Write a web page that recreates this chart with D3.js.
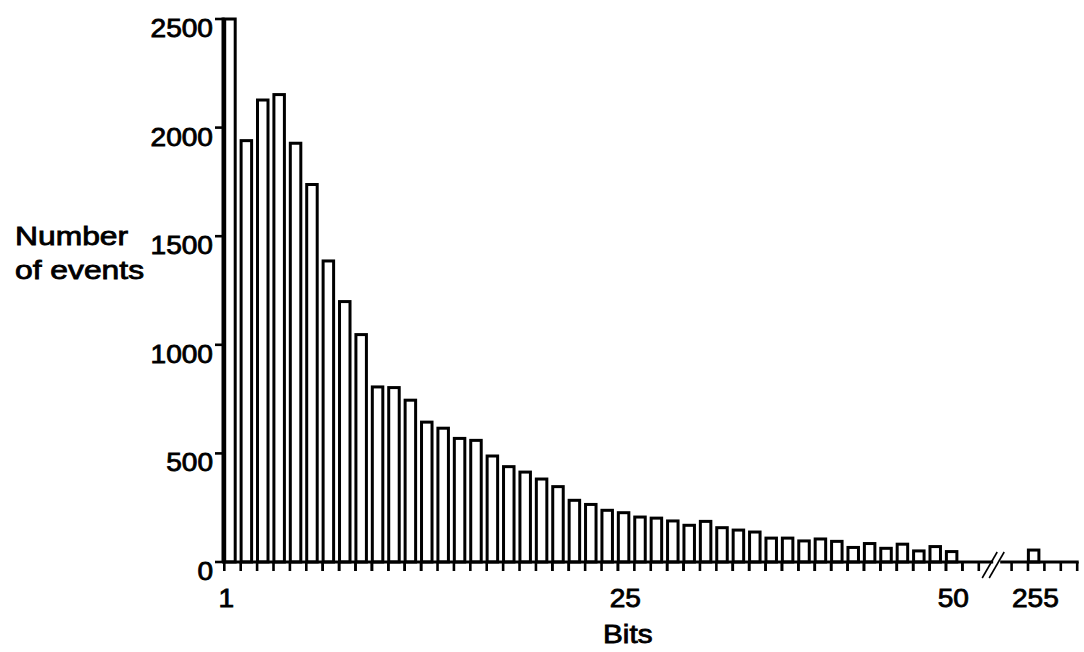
<!DOCTYPE html>
<html>
<head>
<meta charset="utf-8">
<script src="https://cdn.jsdelivr.net/npm/d3@7"></script>
<style>
  html, body { margin: 0; padding: 0; background: #fff; }
  svg { display: block; }
  text { font-family: "Liberation Sans", Arial, Helvetica, sans-serif; fill: #000; stroke: #000; stroke-width: 0.85px; }
</style>
</head>
<body>
<svg id="chart" width="1084" height="652"></svg>
<script>
// Event counts per bit position, 1..46 on the main axis
const bins = [1, 2, 3, 4, 5, 6, 7, 8, 9, 10, 11, 12, 13, 14, 15, 16, 17, 18, 19, 20,
              21, 22, 23, 24, 25, 26, 27, 28, 29, 30, 31, 32, 33, 34, 35, 36, 37, 38, 39, 40,
              41, 42, 43, 44, 45, 46];
const counts = [2500, 1940, 2127, 2152, 1928, 1738, 1386, 1199, 1047, 806,
                803, 745, 644, 616, 569, 560, 488, 439, 414, 382,
                347, 284, 265, 238, 227, 207, 202, 189, 169, 187,
                158, 147, 138, 110, 110, 97, 106, 95, 67, 85,
                63, 82, 51, 71, 48, 0];

// Bins shown after the axis break
const tailBins = [254, 255, 256, 257];
const tailCounts = [0, 55, 0, 0];

// Axis labelling
const yTicks = [0, 500, 1000, 1500, 2000, 2500];
const xTickLabels = ["1", "25", "50", "255"];
const xTickBins = [1, 25, 45, 255];
const xTitle = "Bits";
const yTitle = ["Number", "of events"];

const svg = d3.select("#chart");

// Slot list: main bins, two slots taken by the break, then the tail bins
const breakSlots = ["break-a", "break-b"];
const slots = bins.map(String).concat(breakSlots, tailBins.map(String));
const data = bins.map((b, i) => ({ key: String(b), value: counts[i] }))
  .concat(tailBins.map((b, i) => ({ key: String(b), value: tailCounts[i] })));

const x = d3.scaleBand().domain(slots).range([224.3, 1077.2]).paddingInner(0).paddingOuter(0);
const y = d3.scaleLinear().domain([0, 2500]).range([562, 19]);

const bw = x.bandwidth();
const ink = "#000";

// Bars: white boxes with a heavy outline, sitting at the left of each slot
svg.append("g")
  .selectAll("rect")
  .data(data.filter(d => d.value > 0))
  .join("rect")
  .attr("x", d => x(d.key) + 0.4)
  .attr("y", d => y(d.value))
  .attr("width", bw * 0.64)
  .attr("height", d => y(0) - y(d.value))
  .attr("fill", "#fff")
  .attr("stroke", ink)
  .attr("stroke-width", 3);

// X axis baseline, split at the break
const breakMid = x("break-b");
const y0 = y(0);
const axis = svg.append("g").attr("stroke", ink).attr("stroke-width", 3).attr("fill", "none");
axis.append("line").attr("x1", 222).attr("x2", breakMid - 2).attr("y1", y0).attr("y2", y0);
axis.append("line").attr("x1", breakMid + 5).attr("x2", x.range()[1] + 1.5).attr("y1", y0).attr("y2", y0);

// Break marks
[-3, 4].forEach(off => {
  axis.append("line")
    .attr("x1", breakMid + off - 10).attr("y1", y0 + 16)
    .attr("x2", breakMid + off + 5).attr("y2", y0 - 10)
    .attr("stroke-width", 1.6);
});

// X ticks on every slot edge, skipping the interior of the break
const realSlots = slots.filter(s => !breakSlots.includes(s));
const edges = new Set();
realSlots.forEach(s => { edges.add(x(s)); edges.add(x(s) + bw); });
axis.selectAll("line.xt")
  .data(Array.from(edges))
  .join("line")
  .attr("class", "xt")
  .attr("x1", d => d).attr("x2", d => d)
  .attr("y1", y0).attr("y2", y0 + 9)
  .attr("stroke-width", 2.6);

// Y axis
axis.append("line").attr("x1", 223).attr("x2", 223).attr("y1", y(2500) - 1.5).attr("y2", y0 + 1);
axis.selectAll("line.yt")
  .data(yTicks)
  .join("line")
  .attr("class", "yt")
  .attr("x1", 215).attr("x2", 223)
  .attr("y1", d => y(d)).attr("y2", d => y(d))
  .attr("stroke-width", 2.6);

// Text is set slightly wide, anchored at (px, py)
const place = (sel, px, py, stretch) => sel
  .attr("transform", (d, i) => `translate(${px(d, i)},${py(d, i)}) scale(${stretch},1)`)
  .style("font-size", "26.5px");

svg.append("g").selectAll("text")
  .data(yTicks)
  .join("text")
  .attr("text-anchor", "end")
  .text(d => d)
  .call(place, () => 213, d => y(d) + 18, 1.06);

// X tick labels: the first sits under the origin, the rest under their bar
svg.append("g").selectAll("text")
  .data(xTickLabels)
  .join("text")
  .attr("text-anchor", "middle")
  .text(d => d)
  .call(place,
        (d, i) => i === 0 ? x(String(xTickBins[i])) + 2 : x(String(xTickBins[i])) + bw * 0.45,
        () => 607, 1.06);

svg.append("g").selectAll("text")
  .data([xTitle])
  .join("text")
  .attr("text-anchor", "middle")
  .text(d => d)
  .call(place, () => x("25") + bw * 0.6, () => 643, 1.12);

svg.append("g").selectAll("text")
  .data(yTitle)
  .join("text")
  .text(d => d)
  .call(place, () => 15, (d, i) => 245 + i * 34, 1.2);
</script>
</body>
</html>
